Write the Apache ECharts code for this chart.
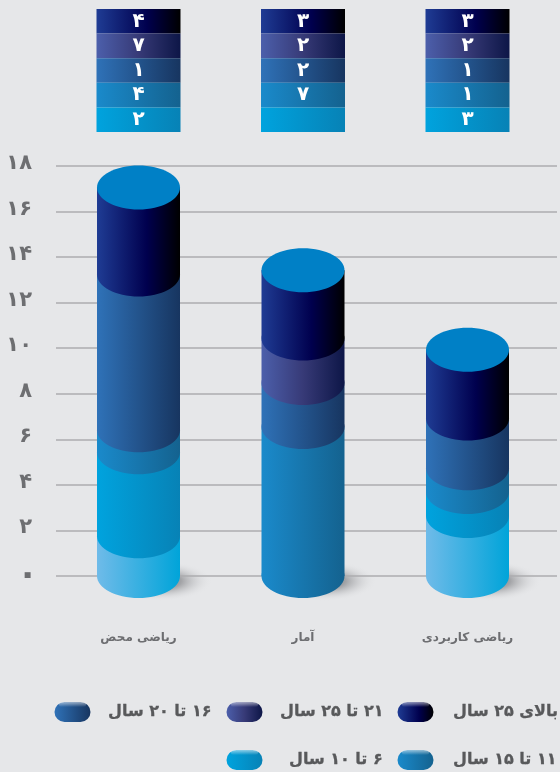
<!DOCTYPE html>
<html>
<head>
<meta charset="utf-8">
<style>html,body{margin:0;padding:0;background:#e6e7e9}#chart{width:560px;height:772px}</style>
<script src="https://cdn.jsdelivr.net/npm/echarts@6/dist/echarts.min.js"></script>
</head>
<body>
<div id="chart" dir="rtl"></div>
<script>
// Categories and tick labels
const categories = ['ریاضی محض', 'آمار', 'ریاضی کاربردی'];
const tickLabels = ['۰', '۲', '۴', '۶', '۸', '۱۰', '۱۲', '۱۴', '۱۶', '۱۸'];

// Segment heights (per category), bottom of stack first
const under6  = [1.74, 0,    2.63];
const age6to10   = [3.69, 0,    1.06];
const age11to15  = [0.97, 6.54, 1.04];
const age16to20  = [6.84, 1.93, 2.19];
const age21to25  = [0,    1.96, 0];
const over25     = [3.82, 2.99, 3.01];

// Printed table above the cylinders
const tableCol1 = ['۴', '۷', '۱', '۴', '۲'];
const tableCol2 = ['۳', '۲', '۲', '۷', ''];
const tableCol3 = ['۳', '۲', '۱', '۱', '۳'];

// Names
const nameOver25 = 'بالای ۲۵ سال';
const name21 = '۲۱ تا ۲۵ سال';
const name16 = '۱۶ تا ۲۰ سال';
const name11 = '۱۱ تا ۱۵ سال';
const name6  = '۶ تا ۱۰ سال';

// Styles
const FONT = '"DejaVu Sans", "Noto Sans", sans-serif';
const BAR_W = 83, RIM = 22, CELL_W = 84;
const grad = (stops) => ({
  type: 'linear', x: 0, y: 0, x2: 1, y2: 0,
  colorStops: stops.map(s => ({ offset: s[0], color: s[1] }))
});
const C = {
  navy:   [[0, '#1f3c94'], [0.6, '#00004e'], [1, '#000000']],
  purple: [[0, '#4c5fab'], [0.5, '#373a77'], [1, '#0d1647']],
  steel:  [[0, '#2f72b8'], [1, '#173560']],
  blue:   [[0, '#1a8acb'], [1, '#14628f']],
  cyan:   [[0, '#00a3de'], [1, '#0782b6']],
  light:  [[0, '#6fbbe9'], [1, '#00a4d9']]
};

function capsule(stops) {
  const s = stops.map(p => `<stop offset="${p[0]}" stop-color="${p[1]}"/>`).join('');
  const svg = `<svg xmlns="http://www.w3.org/2000/svg" width="37" height="22" viewBox="0 0 37 22">` +
    `<defs><linearGradient id="g" x1="0" x2="1" y1="0" y2="0">${s}</linearGradient>` +
    `<linearGradient id="h" x1="0" x2="0" y1="0" y2="1"><stop offset="0" stop-color="#fff" stop-opacity=".55"/><stop offset="1" stop-color="#fff" stop-opacity="0"/></linearGradient></defs>` +
    `<rect x="0.5" y="1" width="36" height="20" rx="10" fill="url(#g)"/>` +
    `<rect x="5" y="1" width="27" height="5" rx="2.5" fill="url(#h)"/></svg>`;
  return 'image://data:image/svg+xml;charset=utf-8,' + encodeURIComponent(svg);
}

// Stack bases per category
const stackOrder = [under6, age6to10, age11to15, age16to20, age21to25, over25];
function segments(arr) {
  const idx = stackOrder.indexOf(arr);
  return arr.map((v, i) => {
    let base = 0;
    for (let k = 0; k < idx; k++) base += stackOrder[k][i];
    return [i, base, base + v];
  }).filter(d => d[2] > d[1]);
}
const totals = categories.map((_, i) => [i, stackOrder.reduce((a, s) => a + s[i], 0)]);

function cylinderSeries(name, arr, stops) {
  return {
    name, type: 'custom', xAxisIndex: 1, yAxisIndex: 1, z: 3,
    encode: { x: 0, y: [1, 2] }, clip: false, silent: true,
    itemStyle: { color: stops[0][1] },
    data: segments(arr),
    renderItem(params, api) {
      const bot = api.coord([api.value(0), api.value(1)]);
      const top = api.coord([api.value(0), api.value(2)]);
      const fill = grad(stops);
      return { type: 'group', children: [
        { type: 'rect', shape: { x: bot[0] - BAR_W / 2, y: top[1], width: BAR_W, height: bot[1] - top[1] }, style: { fill } },
        { type: 'ellipse', shape: { cx: bot[0], cy: bot[1], rx: BAR_W / 2, ry: RIM }, style: { fill } }
      ]};
    }
  };
}

const tableRowStops = [C.navy, C.purple, C.steel, C.blue, C.cyan];
const tableData = [];
[tableCol1, tableCol2, tableCol3].forEach((col, c) => col.forEach((t, r) => tableData.push([c, r, t])));

function legendItem(name, stops, left, top, gap) {
  return {
    left, top, orient: 'horizontal', selectedMode: false,
    itemWidth: 37, itemHeight: 22, padding: 0,
    textStyle: { fontFamily: FONT, fontWeight: 'bold', fontSize: 16, color: '#58595b', padding: [2, 0, 0, gap],
      textBorderColor: '#58595b', textBorderWidth: 0.3 },
    data: [{ name, icon: capsule(stops) }]
  };
}

const chart = echarts.init(document.getElementById('chart'), null, { renderer: 'canvas' });
chart.setOption({
  animation: false,
  backgroundColor: '#e6e7e9',
  textStyle: { fontFamily: FONT },
  grid: [
    { left: 56, top: 166, width: 501, height: 410 },
    { left: 56.25, top: 166, width: 493.5, height: 410 },
    { left: 56.25, top: 9, width: 493.5, height: 123 }
  ],
  xAxis: [
    { gridIndex: 0, type: 'value', show: false, min: 0, max: 1 },
    { gridIndex: 1, type: 'category', data: categories,
      axisLine: { show: false }, axisTick: { show: false },
      axisLabel: { margin: 56, color: '#6d6e71', fontFamily: FONT, fontWeight: 'bold', fontSize: 12 } },
    { gridIndex: 2, type: 'category', data: categories, show: false }
  ],
  yAxis: [
    { gridIndex: 0, type: 'value', min: 0, max: 18, interval: 2,
      axisLine: { show: false }, axisTick: { show: false },
      splitLine: { show: true, lineStyle: { color: '#acadaf', width: 1.5 } },
      axisLabel: { margin: 18, color: '#6d6e71', fontFamily: FONT, fontWeight: 'bold', fontSize: 21,
        formatter: (v) => v === 0 ? '{z|' + tickLabels[0] + '}' : '{n|' + tickLabels[v / 2] + '}',
        rich: {
          n: { fontFamily: FONT, fontWeight: 'bold', fontSize: 21, color: '#6d6e71', padding: [0, 6, 5, 0] },
          z: { fontFamily: FONT, fontWeight: 'bold', fontSize: 34, color: '#6d6e71' }
        } } },
    { gridIndex: 1, type: 'value', min: 0, max: 18, interval: 2, show: false },
    { gridIndex: 2, type: 'category', data: ['0', '1', '2', '3', '4'], inverse: true, show: false }
  ],
  legend: [
    legendItem(nameOver25, C.navy, 397, 701, 14),
    legendItem(name21, C.purple, 226, 701, 12),
    legendItem(name16, C.steel, 54, 701, 12),
    legendItem(name11, C.blue, 397, 749, 14),
    legendItem(name6, C.cyan, 226, 749, 21)
  ],
  series: [
    { type: 'custom', name: 'shadow', xAxisIndex: 1, yAxisIndex: 1, z: -1, clip: false, silent: true,
      encode: { x: 0, y: 1 }, data: categories.map((_, i) => [i, 0]),
      renderItem(params, api) {
        const p = api.coord([api.value(0), 0]);
        const cx = p[0] + 22, cy = p[1] + 5;
        return { type: 'circle', shape: { cx, cy, r: 52 }, originX: cx, originY: cy, scaleY: 20 / 52,
          style: { fill: { type: 'radial', x: 0.5, y: 0.5, r: 0.5, colorStops: [
            { offset: 0, color: '#6f7073' }, { offset: 0.4, color: '#a3a4a7' }, { offset: 1, color: 'rgba(230,231,233,0)' }
          ] } } };
      } },
    cylinderSeries('base', under6, C.light),
    cylinderSeries(name6, age6to10, C.cyan),
    cylinderSeries(name11, age11to15, C.blue),
    cylinderSeries(name16, age16to20, C.steel),
    cylinderSeries(name21, age21to25, C.purple),
    cylinderSeries(nameOver25, over25, C.navy),
    { type: 'custom', name: 'caps', xAxisIndex: 1, yAxisIndex: 1, z: 4, clip: false, silent: true,
      encode: { x: 0, y: 1 }, data: totals,
      renderItem(params, api) {
        const p = api.coord([api.value(0), api.value(1)]);
        return { type: 'ellipse', shape: { cx: p[0], cy: p[1], rx: BAR_W / 2, ry: RIM }, style: { fill: '#0080c6' } };
      } },
    { type: 'custom', name: 'table', xAxisIndex: 2, yAxisIndex: 2, clip: false, silent: true,
      encode: { x: 0, y: 1 }, data: tableData,
      renderItem(params, api) {
        const c = api.value(0), r = api.value(1);
        const p = api.coord([c, r]);
        const h = api.size([0, 1])[1];
        return { type: 'group', children: [
          { type: 'rect', shape: { x: p[0] - CELL_W / 2, y: p[1] - h / 2, width: CELL_W, height: h }, style: { fill: grad(tableRowStops[r]) } },
          { type: 'text', style: { text: tableData[params.dataIndex][2], x: p[0], y: p[1], align: 'center', verticalAlign: 'middle',
            fill: '#ffffff', font: 'bold 20px ' + FONT } }
        ]};
      } }
  ]
});
</script>
</body>
</html>
